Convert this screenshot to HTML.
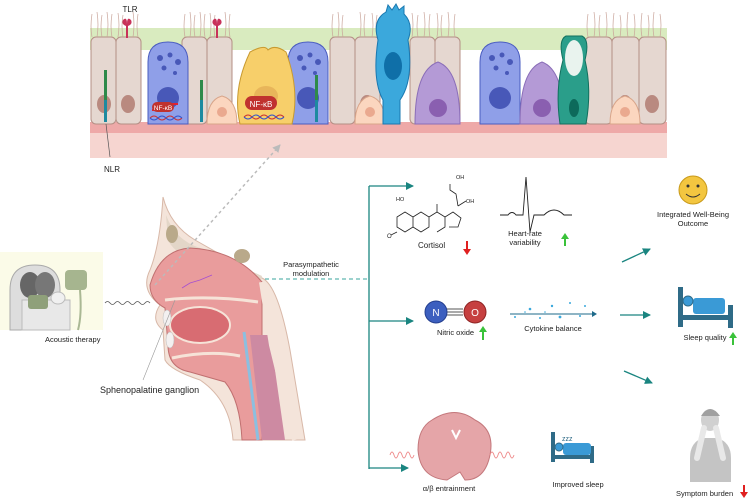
<!DOCTYPE html>
<html><head><meta charset="utf-8"><style>
html,body{margin:0;padding:0;background:#fff;}
svg{display:block;}
text{font-family:"Liberation Sans",sans-serif;fill:#222;}
</style></head><body>
<svg width="750" height="502" viewBox="0 0 750 502" xmlns="http://www.w3.org/2000/svg">
<defs>
<marker id="ah" markerWidth="8" markerHeight="8" refX="7" refY="4" orient="auto" markerUnits="userSpaceOnUse"><path d="M0,0 L8,4 L0,8 z" fill="#1a8580"/></marker>
<marker id="ag" markerWidth="8" markerHeight="8" refX="7" refY="4" orient="auto" markerUnits="userSpaceOnUse"><path d="M0,0 L8,4 L0,8 z" fill="#bbb"/></marker>
</defs>
<!-- epithelium -->
<rect x="90" y="28" width="577" height="22" fill="#d9ebbf"/>
<rect x="90" y="133" width="577" height="25" fill="#f6d5d0"/>
<rect x="90" y="122" width="577" height="11" fill="#eea9a8"/>
<g stroke="#b48f85" stroke-width="1" fill="#e5d7d0">
<rect x="91" y="37" width="25" height="87" rx="5"/><rect x="116" y="37" width="25" height="87" rx="5"/>
<rect x="182" y="37" width="25" height="87" rx="5"/><rect x="207" y="37" width="25" height="87" rx="5"/>
<rect x="330" y="37" width="25" height="87" rx="5"/><rect x="355" y="37" width="25" height="87" rx="5"/>
<rect x="410" y="37" width="25" height="87" rx="5"/><rect x="435" y="37" width="25" height="87" rx="5"/>
<rect x="585" y="37" width="27" height="87" rx="5"/><rect x="612" y="37" width="27" height="87" rx="5"/><rect x="639" y="37" width="27" height="87" rx="5"/>
</g>
<g stroke="#c9a49a" stroke-width="0.7" fill="none">
<path d="M92 37 q-2 -10 0 -23 M97 37 q2 -12 0 -25 M102 37 q-2 -10 0 -22 M107 37 q2 -12 0 -25 M112 37 q-2 -10 0 -23 M118 37 q2 -12 0 -24 M123 37 q-2 -10 0 -22 M133 37 q2 -12 0 -25 M138 37 q-2 -10 0 -23 M185 37 q-2 -10 0 -23 M190 37 q2 -12 0 -25 M195 37 q-2 -10 0 -22 M200 37 q2 -12 0 -25 M205 37 q-2 -10 0 -23 M210 37 q2 -12 0 -24 M215 37 q-2 -10 0 -22 M225 37 q2 -12 0 -25 M230 37 q-2 -10 0 -23 M333 37 q-2 -10 0 -23 M338 37 q2 -12 0 -25 M343 37 q-2 -10 0 -22 M360 37 q2 -12 0 -25 M365 37 q-2 -10 0 -23 M372 37 q2 -12 0 -24 M377 37 q-2 -10 0 -22 M412 37 q2 -12 0 -24 M418 37 q-2 -10 0 -22 M424 37 q2 -12 0 -25 M430 37 q-2 -10 0 -23 M437 37 q2 -12 0 -24 M442 37 q-2 -10 0 -22 M448 37 q2 -12 0 -25 M455 37 q-2 -10 0 -23 M588 37 q-2 -10 0 -23 M594 37 q2 -12 0 -25 M600 37 q-2 -10 0 -22 M606 37 q2 -12 0 -25 M614 37 q-2 -10 0 -24 M620 37 q2 -12 0 -22 M628 37 q-2 -10 0 -25 M634 37 q2 -12 0 -23 M642 37 q-2 -10 0 -24 M648 37 q2 -12 0 -22 M654 37 q-2 -10 0 -25 M660 37 q2 -12 0 -23"/>
</g>
<g fill="#b98a80"><ellipse cx="104" cy="104" rx="7" ry="9"/><ellipse cx="128" cy="104" rx="7" ry="9"/><ellipse cx="367" cy="104" rx="7" ry="9"/><ellipse cx="447" cy="104" rx="7" ry="9"/><ellipse cx="625" cy="104" rx="7" ry="9"/><ellipse cx="652" cy="104" rx="7" ry="9"/></g>
<!-- TLR -->
<g fill="#c8325a"><path d="M123 20 q4 -4 4 4 q0 -8 4 -4 q2 4 -3 6 v12 h-2 v-12 q-5 -2 -3 -6z"/><path d="M213 20 q4 -4 4 4 q0 -8 4 -4 q2 4 -3 6 v12 h-2 v-12 q-5 -2 -3 -6z"/></g>
<!-- goblet cells -->
<g fill="#8f9fe8" stroke="#4a5cc0" stroke-width="1">
<path d="M148 124 V62 Q148 42 168 42 Q188 42 188 62 V124 Z"/>
<path d="M288 124 V62 Q288 42 308 42 Q328 42 328 62 V124 Z"/>
<path d="M480 124 V62 Q480 42 500 42 Q520 42 520 62 V124 Z"/>
</g>
<g fill="#4858b8"><circle cx="168" cy="98" r="11"/><circle cx="308" cy="98" r="11"/><circle cx="500" cy="98" r="11"/>
<circle cx="160" cy="58" r="3"/><circle cx="170" cy="55" r="2.5"/><circle cx="178" cy="62" r="3"/><circle cx="164" cy="68" r="2.5"/><circle cx="175" cy="73" r="2"/>
<circle cx="300" cy="58" r="3"/><circle cx="310" cy="55" r="2.5"/><circle cx="318" cy="62" r="3"/><circle cx="304" cy="68" r="2.5"/><circle cx="315" cy="73" r="2"/>
<circle cx="492" cy="58" r="3"/><circle cx="502" cy="55" r="2.5"/><circle cx="510" cy="62" r="3"/><circle cx="496" cy="68" r="2.5"/><circle cx="507" cy="73" r="2"/></g>
<!-- basal peach -->
<g fill="#fbd6bf" stroke="#d8a58a"><path d="M207 124 Q207 100 222 96 Q237 100 237 124Z"/><path d="M355 124 Q355 100 370 96 Q385 100 385 124Z"/><path d="M610 124 Q610 100 625 96 Q640 100 640 124Z"/></g>
<g fill="#eaa98f"><circle cx="222" cy="112" r="5"/><circle cx="370" cy="112" r="5"/><circle cx="625" cy="112" r="5"/></g>
<!-- yellow cell -->
<path d="M240 124 Q232 90 250 52 Q265 44 268 50 Q275 44 286 52 Q300 90 292 124Z" fill="#f7cf6a" stroke="#c89a30"/>
<ellipse cx="266" cy="96" rx="12" ry="10" fill="#e8b55a"/>
<rect x="245" y="96" width="32" height="14" rx="7" fill="#c0322f"/><text x="261" y="107" font-size="8" text-anchor="middle" style="fill:#fff">NF-κB</text>
<path d="M152 110 h18 v-6 h8" stroke="#d23" stroke-width="2" fill="none"/><rect x="152" y="102" width="22" height="10" rx="5" fill="#c0322f"/><text x="163" y="110" font-size="6.5" text-anchor="middle" style="fill:#fff">NF-κB</text>
<path d="M150 118 q4 -4 8 0 t8 0 t8 0 t8 0" stroke="#c33" fill="none"/><path d="M150 118 q4 4 8 0 t8 0 t8 0 t8 0" stroke="#35c" fill="none"/>
<path d="M244 117 q4 -4 8 0 t8 0 t8 0 t8 0 t8 0" stroke="#c33" fill="none"/><path d="M244 117 q4 4 8 0 t8 0 t8 0 t8 0 t8 0" stroke="#35c" fill="none"/>
<!-- tuft cell -->
<path d="M383 124 V100 Q372 80 378 40 Q372 20 386 12 L388 5 L392 10 L396 4 L399 10 L404 6 L404 14 Q414 24 408 40 Q414 80 400 100 V124Z" fill="#3ba8dc" stroke="#1a78b0"/>
<ellipse cx="393" cy="66" rx="9" ry="14" fill="#0f6fa8"/>
<!-- purple cells -->
<g fill="#b49ad6" stroke="#8a6db8"><path d="M415 124 Q415 70 438 62 Q460 70 460 124Z"/><path d="M520 124 Q520 70 542 62 Q564 70 564 124Z"/></g>
<g fill="#8a5fb0"><circle cx="438" cy="108" r="9"/><circle cx="542" cy="108" r="9"/></g>
<!-- teal goblet -->
<path d="M560 124 Q555 90 563 60 Q558 40 566 36 L582 36 Q590 40 585 60 Q592 90 586 124Z" fill="#2a9e8a" stroke="#12705e"/>
<ellipse cx="574" cy="58" rx="9" ry="18" fill="#e9f3ee"/>
<ellipse cx="574" cy="108" rx="5" ry="9" fill="#0d6a5b"/>
<!-- NLR strings -->
<g fill="#2e8a4a"><rect x="104" y="70" width="3" height="30"/><rect x="200" y="80" width="3" height="20"/><rect x="315" y="75" width="3" height="25"/></g>
<g fill="#1d8aa0"><rect x="104" y="100" width="3" height="22"/><rect x="200" y="100" width="3" height="22"/><rect x="315" y="100" width="3" height="22"/></g>
<text x="130" y="12" font-size="8" text-anchor="middle">TLR</text>
<line x1="106" y1="124" x2="110" y2="157" stroke="#555" stroke-width="0.7"/>
<text x="104" y="172" font-size="8">NLR</text>
<!-- device -->
<rect x="0" y="252" width="103" height="78" fill="#fbfbe8"/>
<path d="M10 330 V290 Q10 265 35 265 Q60 265 60 290 V330Z" fill="#ddd" stroke="#aaa"/>
<ellipse cx="30" cy="285" rx="10" ry="13" fill="#666"/><ellipse cx="45" cy="285" rx="10" ry="13" fill="#777"/>
<rect x="22" y="300" width="48" height="30" fill="#e8e8e8" stroke="#bbb"/>
<rect x="28" y="295" width="20" height="14" rx="3" fill="#8fa07a"/><rect x="65" y="270" width="22" height="20" rx="4" fill="#a6b58f"/>
<path d="M80 290 Q82 315 78 330" stroke="#aab894" stroke-width="2" fill="none"/>
<ellipse cx="58" cy="298" rx="7" ry="6" fill="#f0f0f0" stroke="#bbb"/>
<text x="45" y="342" font-size="7.5">Acoustic therapy</text>
<path d="M105 303 q2.5 -3 5 0 t5 0 t5 0 t5 0 t5 0 t5 0 t5 0 t5 0 t5 0" stroke="#555" fill="none" stroke-width="0.8"/>
<!-- head -->
<path d="M163 197 Q170 225 195 240 L262 278 Q278 285 290 350 L305 440 L233 440 Q230 400 200 380 Q170 370 165 360 L163 330 Q150 320 160 305 Q140 290 150 270 Q160 245 163 197Z" fill="#f4e4da" stroke="#d8b8a8"/>
<path d="M166 215 Q175 240 200 248 L262 276 L258 290 L200 262 Q175 255 168 240Z" fill="#e3d6c8"/>
<path d="M150 285 Q160 250 190 248 Q235 250 262 282 L262 440 L242 440 Q240 400 225 382 L190 372 Q168 368 168 345 L165 308 Q150 300 150 285Z" fill="#e99c9c" stroke="#c07070"/>
<path d="M165 300 Q210 295 258 302" stroke="#f6e3d8" stroke-width="3" fill="none"/>
<ellipse cx="200" cy="325" rx="30" ry="18" fill="#d86c72" stroke="#f6e3d8" stroke-width="2"/>
<path d="M172 358 Q210 350 240 356" stroke="#f6e3d8" stroke-width="3" fill="none"/>
<path d="M250 335 L262 440 L285 440 L270 335Z" fill="#cd8aa2"/>
<path d="M244 332 L258 440" stroke="#8bbfe0" stroke-width="3" fill="none"/>
<path d="M262 282 L272 345 L295 440" stroke="#f4e4da" stroke-width="6" fill="none"/>
<ellipse cx="172" cy="234" rx="6" ry="9" fill="#b9a98a"/><ellipse cx="242" cy="256" rx="8" ry="7" fill="#b9a98a"/>
<ellipse cx="167" cy="318" rx="4" ry="8" fill="#f3f0f0" stroke="#bbb" stroke-width="0.5"/><ellipse cx="170" cy="340" rx="4" ry="8" fill="#f3f0f0" stroke="#bbb" stroke-width="0.5"/>
<path d="M182 288 l8 -5 l10 -3 l12 -5" stroke="#a64fd0" fill="none" stroke-width="0.8"/>
<line x1="175" y1="300" x2="143" y2="380" stroke="#999" stroke-width="0.6"/>
<line x1="155" y1="285" x2="280" y2="145" stroke="#bbb" stroke-width="1.5" stroke-dasharray="3,3" marker-end="url(#ag)"/>
<text x="100" y="393" font-size="9">Sphenopalatine ganglion</text>
<line x1="265" y1="279" x2="368" y2="279" stroke="#62b7b0" stroke-dasharray="4,3" stroke-width="1.2"/>
<text x="311" y="267" font-size="7.5" text-anchor="middle">Parasympathetic</text>
<text x="311" y="276" font-size="7.5" text-anchor="middle">modulation</text>
<!-- tree -->
<g stroke="#1a8580" stroke-width="1.3" fill="none">
<path d="M369 186 V469"/>
<path d="M369 186 H413" marker-end="url(#ah)"/><path d="M369 321 H413" marker-end="url(#ah)"/><path d="M369 468 H408" marker-end="url(#ah)"/>
<path d="M622 262 L650 249" marker-end="url(#ah)"/><path d="M620 315 H650" marker-end="url(#ah)"/><path d="M624 371 L652 383" marker-end="url(#ah)"/>
</g>
<!-- cortisol -->
<g stroke="#222" stroke-width="0.8" fill="none">
<path d="M405 232 l8 -5 v-10 l-8 -5 l-8 5 v10z M413 217 l8 -5 l8 5 v10 l-8 5 l-8 -5 M429 217 l8 -5 l8 5 v10 l-8 5 M445 217 l8 -5 l8 6 l-3 9 h-9 M397 232 l-6 3 M437 212 v-8 M458 206 l-2 -12 l-6 -4 v-6 M458 206 l8 -5"/>
</g>
<text x="396" y="201" font-size="5.5">HO</text><text x="466" y="203" font-size="5.5">OH</text><text x="456" y="179" font-size="5.5">OH</text><text x="387" y="238" font-size="6">O</text>
<text x="418" y="248" font-size="8">Cortisol</text>
<path d="M467 241 V251" stroke="#e02020" stroke-width="2"/><path d="M463 249 l4 6 l4 -6z" fill="#e02020"/>
<!-- HRV -->
<path d="M500 215 h8 q4 -5 8 0 h7 l3 -38 l4 55 l4 -17 h10 q10 -10 20 0 h8" stroke="#222" fill="none" stroke-width="0.9"/>
<text x="525" y="236" font-size="7.5" text-anchor="middle">Heart-rate</text><text x="525" y="245" font-size="7.5" text-anchor="middle">variability</text>
<path d="M565 246 V237" stroke="#3ac23a" stroke-width="2"/><path d="M561 239 l4 -6 l4 6z" fill="#3ac23a"/>
<!-- NO -->
<line x1="443" y1="309" x2="463" y2="309" stroke="#555"/><line x1="443" y1="312" x2="463" y2="312" stroke="#555"/><line x1="443" y1="315" x2="463" y2="315" stroke="#555"/>
<circle cx="436" cy="312" r="11" fill="#3c5fbf" stroke="#243f8f"/><text x="436" y="316" font-size="10" text-anchor="middle" style="fill:#fff">N</text>
<circle cx="475" cy="312" r="11" fill="#c64040" stroke="#8f2424"/><text x="475" y="316" font-size="10" text-anchor="middle" style="fill:#fff">O</text>
<text x="437" y="335" font-size="7.5">Nitric oxide</text>
<path d="M483 340 V330" stroke="#3ac23a" stroke-width="2"/><path d="M479 332 l4 -6 l4 6z" fill="#3ac23a"/>
<line x1="510" y1="314" x2="592" y2="314" stroke="#1e6a8a"/><path d="M592 311 l5 3 l-5 3z" fill="#1e6a8a"/>
<g fill="#3aa8dc"><circle cx="515" cy="317" r="1"/><circle cx="530" cy="309" r="1.3"/><circle cx="540" cy="318" r="1"/><circle cx="552" cy="306" r="1.2"/><circle cx="560" cy="317" r="1.4"/><circle cx="570" cy="303" r="1"/><circle cx="580" cy="316" r="1"/><circle cx="545" cy="312" r="0.8"/><circle cx="525" cy="312" r="0.8"/><circle cx="585" cy="306" r="1"/></g>
<text x="553" y="331" font-size="7.5" text-anchor="middle">Cytokine balance</text>
<!-- brain -->
<path d="M432 420 Q455 405 475 420 Q495 430 490 455 Q485 480 465 480 L460 472 L447 480 Q420 478 418 450 Q418 428 432 420Z" fill="#e5a5a8" stroke="#c4787c"/>
<path d="M452 430 l4 8 l4 -8" stroke="#fff" stroke-width="2" fill="none"/>
<path d="M390 455 q2 -6 4 0 t4 0 t4 0 t4 0 t4 0 t4 0 M490 455 q2 -6 4 0 t4 0 t4 0 t4 0 t4 0 t4 0" stroke="#ee8a8a" fill="none" stroke-width="0.9"/>
<text x="449" y="491" font-size="7.5" text-anchor="middle">α/β entrainment</text>
<!-- improved sleep bed -->
<g fill="#2f6b87"><rect x="551" y="432" width="4" height="30"/><rect x="590" y="446" width="4" height="17"/><rect x="551" y="455" width="43" height="4"/></g>
<rect x="563" y="443" width="28" height="12" rx="3" fill="#3a9ad6"/><circle cx="559" cy="447" r="4" fill="#3a9ad6" stroke="#2f6b87"/>
<text x="562" y="441" font-size="7" style="fill:#2f6b87">zzz</text>
<text x="578" y="487" font-size="7.5" text-anchor="middle">Improved sleep</text>
<!-- smiley -->
<circle cx="693" cy="190" r="14" fill="#f3c640" stroke="#c99a1a"/><circle cx="688" cy="186" r="1.5" fill="#333"/><circle cx="698" cy="186" r="1.5" fill="#333"/><path d="M686 194 q7 6 14 0" stroke="#333" fill="none"/>
<text x="693" y="217" font-size="7.5" text-anchor="middle">Integrated Well-Being</text><text x="693" y="226" font-size="7.5" text-anchor="middle">Outcome</text>
<!-- sleep quality bed -->
<g fill="#2f6b87"><rect x="678" y="287" width="5" height="40"/><rect x="728" y="305" width="5" height="23"/><rect x="678" y="315" width="55" height="5"/></g>
<rect x="693" y="298" width="32" height="16" rx="3" fill="#3a9ad6"/><circle cx="688" cy="301" r="5" fill="#3a9ad6" stroke="#2f6b87"/>
<text x="705" y="340" font-size="7.5" text-anchor="middle">Sleep quality</text>
<path d="M733 345 V336" stroke="#3ac23a" stroke-width="2"/><path d="M729 338 l4 -6 l4 6z" fill="#3ac23a"/>
<!-- person -->
<path d="M690 482 V458 Q690 442 703 438 L717 438 Q731 442 731 458 V482Z" fill="#c4c4c4"/>
<ellipse cx="710" cy="420" rx="9" ry="11" fill="#d0d0d0"/><path d="M701 416 Q710 402 720 416" fill="#a0a0a0"/>
<path d="M697 458 L704 428 M723 458 L716 428" stroke="#e8e8e8" stroke-width="6" stroke-linecap="round"/>
<text x="676" y="496" font-size="7.5">Symptom burden</text>
<path d="M744 485 V494" stroke="#e02020" stroke-width="2"/><path d="M740 492 l4 6 l4 -6z" fill="#e02020"/>
</svg>
</body></html>
